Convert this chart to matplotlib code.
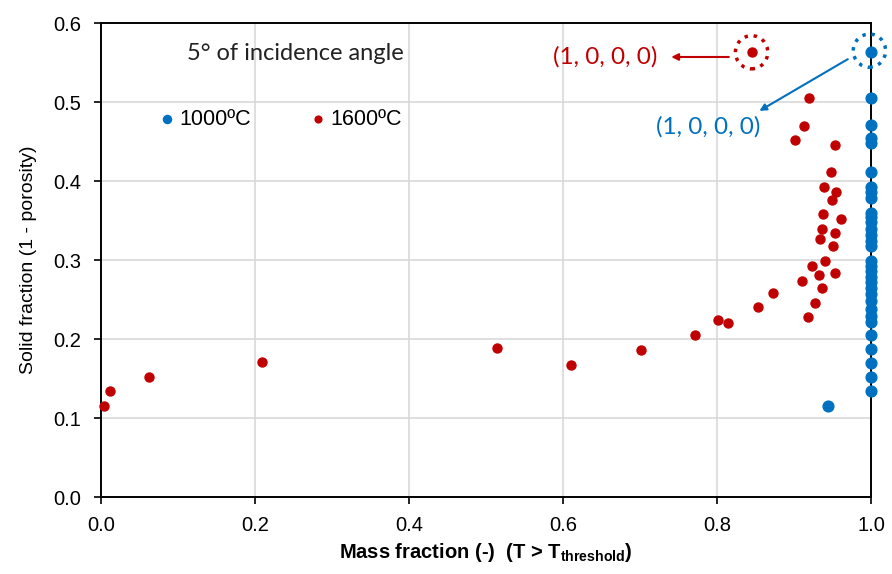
import numpy as np
import matplotlib
matplotlib.use("Agg")
import matplotlib.pyplot as plt
from matplotlib.patches import Circle

plt.rcParams['font.family'] = ['Liberation Sans', 'DejaVu Sans']
plt.rcParams['mathtext.fontset'] = 'custom'
plt.rcParams['mathtext.rm'] = 'Liberation Sans'
plt.rcParams['mathtext.bf'] = 'Liberation Sans:bold'

BLUE = '#0070C0'
RED = '#C00000'

# --- donnees ---
x_1000 = [1.0] * 32 + [0.944]
y_1000 = [0.563, 0.505, 0.471, 0.454, 0.448, 0.412, 0.393, 0.386, 0.378, 0.360,
          0.355, 0.348, 0.339, 0.332, 0.324, 0.318, 0.299, 0.293, 0.286, 0.279,
          0.272, 0.265, 0.257, 0.248, 0.238, 0.229, 0.221, 0.205, 0.188, 0.170,
          0.152, 0.134, 0.115]

x_1600 = [0.004, 0.012, 0.062, 0.209, 0.514, 0.610, 0.701, 0.771, 0.801, 0.814,
          0.853, 0.873, 0.845, 0.919, 0.913, 0.902, 0.953, 0.948, 0.939, 0.955,
          0.950, 0.938, 0.961, 0.937, 0.953, 0.934, 0.951, 0.940, 0.924, 0.933,
          0.953, 0.910, 0.937, 0.927, 0.918]
y_1600 = [0.115, 0.134, 0.152, 0.171, 0.189, 0.167, 0.186, 0.205, 0.224, 0.220,
          0.240, 0.258, 0.563, 0.505, 0.470, 0.452, 0.445, 0.411, 0.393, 0.386,
          0.376, 0.358, 0.352, 0.339, 0.334, 0.327, 0.318, 0.299, 0.292, 0.281,
          0.283, 0.274, 0.265, 0.246, 0.228]

x_ticks = [0.0, 0.2, 0.4, 0.6, 0.8, 1.0]
y_ticks = [0.0, 0.1, 0.2, 0.3, 0.4, 0.5, 0.6]

fig = plt.figure(figsize=(8.92, 5.74), dpi=100)
ax = fig.add_axes([0.1132, 0.1341, 0.8632, 0.8258])

ax.scatter(x_1000, y_1000, s=60, color=BLUE, zorder=3, label='1000ºC', clip_on=False)
ax.scatter(x_1600, y_1600, s=42, color=RED, zorder=3, label='1600ºC', clip_on=False)

ax.set_xlim(0, 1.0)
ax.set_ylim(0, 0.6)
ax.set_xticks(x_ticks)
ax.set_yticks(y_ticks)
ax.set_xticklabels([f'{v:.1f}' for v in x_ticks])
ax.set_yticklabels([f'{v:.1f}' for v in y_ticks])
ax.tick_params(labelsize=14.5, direction='out', length=5, width=1.2, pad=9)
ax.grid(True, color='#d9d9d9', linewidth=1.2)
ax.set_axisbelow(True)
for sp in ax.spines.values():
    sp.set_linewidth(1.4)
    sp.set_color('black')

ax.set_xlabel(r'Mass fraction (-)  (T > T$_{\mathbf{threshold}}$)',
              fontsize=14.5, fontweight='bold', labelpad=4)
ax.set_ylabel('Solid fraction (1 - porosity)', fontsize=14, labelpad=12)

ax.text(0.252, 0.562, '5° of incidence angle', fontsize=17, family='Lato',
        ha='center', va='center', color='#222222')

ax.legend(loc='center left', bbox_to_anchor=(0.046, 0.797), ncol=2, frameon=False,
          fontsize=15.5, markerscale=0.75, handletextpad=0.1, columnspacing=2.6,
          handlelength=1.0)

# annotations (1, 0, 0, 0)
ax.add_patch(Circle((0.845, 0.563), 0.021, transform=ax.transData, fill=False,
                    ec=RED, ls=':', lw=2.5, zorder=4))
ax.annotate('', xy=(0.737, 0.557), xytext=(0.819, 0.557),
            arrowprops=dict(arrowstyle='-|>', color=RED, lw=1.5, mutation_scale=10))
ax.text(0.655, 0.557, '(1, 0, 0, 0)', color=RED, fontsize=17.5, family='Lato',
        ha='center', va='center')

ax.add_patch(Circle((0.998, 0.565), 0.021, transform=ax.transData, fill=False,
                    ec=BLUE, ls=':', lw=2.5, zorder=4, clip_on=False))
ax.annotate('', xy=(0.852, 0.487), xytext=(0.973, 0.556),
            arrowprops=dict(arrowstyle='-|>', color=BLUE, lw=1.5, mutation_scale=10))
ax.text(0.789, 0.468, '(1, 0, 0, 0)', color=BLUE, fontsize=17.5, family='Lato',
        ha='center', va='center')

fig.savefig('out.png', dpi=100)
